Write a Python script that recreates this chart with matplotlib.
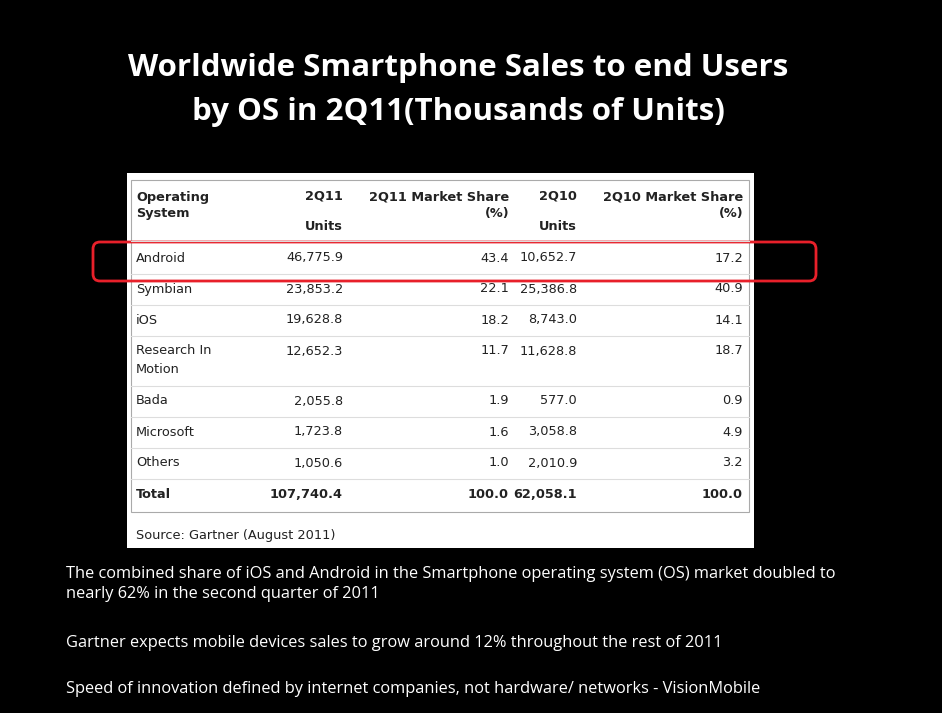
import matplotlib.pyplot as plt
from matplotlib.patches import Rectangle, FancyBboxPatch

os_names = ['Android', 'Symbian', 'iOS', 'Research In\nMotion', 'Bada', 'Microsoft', 'Others']
units_2q11 = ['46,775.9', '23,853.2', '19,628.8', '12,652.3', '2,055.8', '1,723.8', '1,050.6']
share_2q11 = ['43.4', '22.1', '18.2', '11.7', '1.9', '1.6', '1.0']
units_2q10 = ['10,652.7', '25,386.8', '8,743.0', '11,628.8', '577.0', '3,058.8', '2,010.9']
share_2q10 = ['17.2', '40.9', '14.1', '18.7', '0.9', '4.9', '3.2']
total_row = ['Total', '107,740.4', '100.0', '62,058.1', '100.0']

notes = [
    'The combined share of iOS and Android in the Smartphone operating system (OS) market doubled to\nnearly 62% in the second quarter of 2011',
    'Gartner expects mobile devices sales to grow around 12% throughout the rest of 2011',
    'Speed of innovation defined by internet companies, not hardware/ networks - VisionMobile',
]
note_y = [566, 643, 689]
note_va = ['top', 'center', 'center']

fig = plt.figure(figsize=(9.42, 7.13), dpi=100, facecolor='black')
ax = fig.add_axes([0, 0, 1, 1])
ax.set_xlim(0, 942)
ax.set_ylim(713, 0)
ax.axis('off')

for line, y in [('Worldwide Smartphone Sales to end Users', 68),
                ('by OS in 2Q11(Thousands of Units)', 112)]:
    ax.text(458, y, line, color='white', fontsize=22.5, fontweight='bold',
            family='Open Sans', ha='center', va='center')

# table background
ax.add_patch(Rectangle((127, 173), 627, 375, facecolor='white', edgecolor='none'))
ax.add_patch(Rectangle((131, 180), 618, 332, facecolor='none', edgecolor='#aaaaaa', lw=0.8))

tf = dict(family='DejaVu Sans', fontsize=9.3, color='#222222', va='center')
hf = dict(tf, fontweight='bold')
ax.text(136, 205, 'Operating\nSystem', ha='left', linespacing=1.3, **hf)
ax.text(343, 196, '2Q11', ha='right', **hf)
ax.text(343, 227, 'Units', ha='right', **hf)
ax.text(509, 205, '2Q11 Market Share\n(%)', ha='right', multialignment='right', linespacing=1.3, **hf)
ax.text(577, 196, '2Q10', ha='right', **hf)
ax.text(577, 227, 'Units', ha='right', **hf)
ax.text(743, 205, '2Q10 Market Share\n(%)', ha='right', multialignment='right', linespacing=1.3, **hf)

row_y = [258, 289, 320, 351, 401, 432, 463]
for i, y in enumerate(row_y):
    if '\n' in os_names[i]:
        ax.text(136, y + 9, os_names[i], ha='left', linespacing=1.6, **tf)
    else:
        ax.text(136, y, os_names[i], ha='left', **tf)
    ax.text(343, y, units_2q11[i], ha='right', **tf)
    ax.text(509, y, share_2q11[i], ha='right', **tf)
    ax.text(577, y, units_2q10[i], ha='right', **tf)
    ax.text(743, y, share_2q10[i], ha='right', **tf)

for y in [241, 274, 305, 336, 386, 417, 448, 479]:
    ax.plot([131, 749], [y, y], color='#dddddd', lw=0.8)

ax.text(136, 494, total_row[0], ha='left', **hf)
ax.text(343, 494, total_row[1], ha='right', **hf)
ax.text(509, 494, total_row[2], ha='right', **hf)
ax.text(577, 494, total_row[3], ha='right', **hf)
ax.text(743, 494, total_row[4], ha='right', **hf)

ax.text(136, 535, 'Source: Gartner (August 2011)', ha='left', **tf)

ax.add_patch(FancyBboxPatch((93, 242), 723, 39, boxstyle='round,pad=0,rounding_size=7',
                            facecolor='none', edgecolor='#e8202a', lw=2))

for t, y, va in zip(notes, note_y, note_va):
    ax.text(66, y, t, color='white', fontsize=11.8, family='Open Sans', ha='left', va=va,
            linespacing=1.3)

fig.savefig('out.png', dpi=100, facecolor='black')
